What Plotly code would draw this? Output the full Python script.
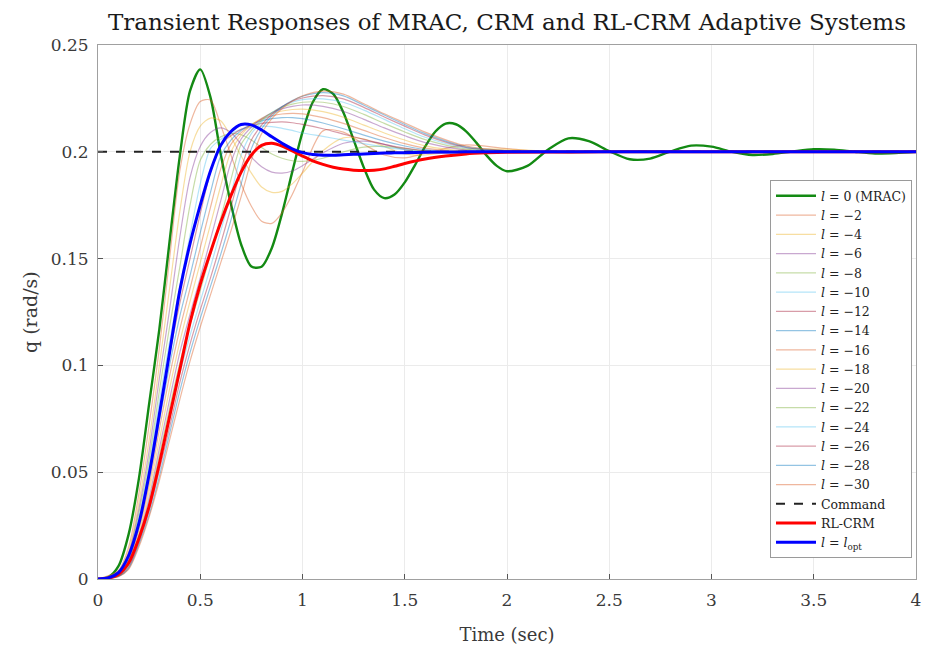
import plotly.graph_objects as go

# ---------------- data ----------------
T_GREEN = [0, 0.05, 0.1, 0.15, 0.2, 0.25, 0.3, 0.35, 0.4, 0.45, 0.5, 0.55, 0.6, 0.65, 0.7, 0.75,
           0.8, 0.85, 0.9, 0.95, 1.0, 1.05, 1.1, 1.15, 1.2, 1.25, 1.3, 1.35, 1.4, 1.45, 1.5,
           1.55, 1.6, 1.65, 1.7, 1.75, 1.8, 1.85, 1.9, 1.95, 2.0, 2.1, 2.2, 2.3, 2.4, 2.5,
           2.6, 2.7, 2.8, 2.9, 3.0, 3.1, 3.2, 3.3, 3.4, 3.5, 3.6, 3.7, 3.8, 3.9, 4.0]
Q_MRAC = [0, 0.0008, 0.006, 0.021, 0.047, 0.082, 0.117, 0.158, 0.198, 0.2285, 0.2386, 0.2255,
          0.1990, 0.1756, 0.1566, 0.1463, 0.1462, 0.1550, 0.1712, 0.1906, 0.2092, 0.2232, 0.2293,
          0.2271, 0.2184, 0.2056, 0.1926, 0.1823, 0.1783, 0.1800, 0.1857, 0.1938, 0.2025, 0.2095,
          0.2132, 0.2129, 0.2096, 0.2043, 0.1983, 0.1934, 0.1909, 0.1934, 0.2010, 0.2063, 0.2050,
          0.2003, 0.1965, 0.1968, 0.2002, 0.2029, 0.2024, 0.2000, 0.1985, 0.1990, 0.2002, 0.2012,
          0.2010, 0.2000, 0.1992, 0.1994, 0.2000]

T_BR = [0, 0.05, 0.1, 0.15, 0.2, 0.25, 0.3, 0.35, 0.4, 0.45, 0.5, 0.55, 0.6, 0.65, 0.7, 0.75,
        0.8, 0.85, 0.9, 0.95, 1.0, 1.05, 1.1, 1.15, 1.2, 1.25, 1.3, 1.35, 1.4, 1.45, 1.5,
        1.6, 1.7, 1.8, 1.9, 2.0, 2.5, 3.0, 3.5, 4.0]
Q_LOPT = [0, 0.0005, 0.003, 0.011, 0.026, 0.049, 0.077, 0.106, 0.135, 0.157, 0.175, 0.191,
          0.203, 0.2095, 0.2128, 0.2126, 0.2102, 0.2070, 0.2040, 0.2014, 0.1996, 0.1987, 0.1984,
          0.1984, 0.1986, 0.1988, 0.1990, 0.1992, 0.1994, 0.1995, 0.1996, 0.1998, 0.1999, 0.2,
          0.2, 0.2, 0.2, 0.2, 0.2, 0.2]
Q_RLCRM = [0, 0.0004, 0.0022, 0.0075, 0.019, 0.034, 0.054, 0.076, 0.098, 0.120, 0.138, 0.153,
           0.167, 0.1795, 0.1905, 0.1985, 0.2030, 0.2040, 0.2027, 0.2004, 0.1980, 0.1958, 0.1941,
           0.1928, 0.1919, 0.1914, 0.1912, 0.1914, 0.1920, 0.1932, 0.1945, 0.1966, 0.1980, 0.1990,
           0.1995, 0.1998, 0.2, 0.2, 0.2, 0.2]

T_CMD = [0, 4]
Q_CMD = [0.2, 0.2]

T_THIN = [0, 0.1, 0.15, 0.2, 0.25, 0.3, 0.35, 0.4, 0.45, 0.5, 0.55, 0.6, 0.65, 0.7, 0.75, 0.8,
          0.85, 0.9, 0.95, 1.0, 1.1, 1.2, 1.3, 1.4, 1.5, 1.6, 1.8, 2.0, 2.3, 2.6, 3.0, 4.0]
L_VALUES = [-2, -4, -6, -8, -10, -12, -14, -16, -18, -20, -22, -24, -26, -28, -30]
Q_L2 = [0, 0.004, 0.015, 0.040, 0.072, 0.108, 0.150, 0.191, 0.213, 0.2235, 0.2242, 0.2125, 0.1985,
        0.185, 0.1745, 0.1675, 0.1665, 0.1715, 0.180, 0.1905, 0.2098, 0.2092, 0.2035, 0.1985,
        0.1972, 0.1992, 0.2032, 0.2015, 0.1993, 0.2003, 0.2, 0.2]
Q_L4 = [0, 0.0035, 0.013, 0.036, 0.065, 0.100, 0.136, 0.172, 0.200, 0.212, 0.2158, 0.2145, 0.207,
        0.198, 0.190, 0.1835, 0.181, 0.1815, 0.185, 0.190, 0.2005, 0.2065, 0.206, 0.2025, 0.199,
        0.1985, 0.2012, 0.2012, 0.1998, 0.2, 0.2, 0.2]
Q_L6 = [0, 0.003, 0.012, 0.033, 0.060, 0.094, 0.126, 0.160, 0.188, 0.2025, 0.209, 0.2112, 0.209,
        0.2035, 0.1975, 0.1930, 0.1905, 0.190, 0.191, 0.1935, 0.1995, 0.204, 0.205, 0.2035, 0.201,
        0.1995, 0.1995, 0.2005, 0.2003, 0.2, 0.2, 0.2]
Q_L8 = [0, 0.003, 0.011, 0.031, 0.056, 0.088, 0.118, 0.146, 0.175, 0.196, 0.2035, 0.207, 0.2085,
        0.208, 0.2055, 0.202, 0.199, 0.197, 0.1958, 0.1955, 0.197, 0.200, 0.2022, 0.2025, 0.2015,
        0.2003, 0.1995, 0.2, 0.2, 0.2, 0.2, 0.2]
Q_L10 = [0, 0.0028, 0.010, 0.029, 0.053, 0.083, 0.111, 0.137, 0.161, 0.185, 0.2015, 0.2058, 0.2085,
         0.2105, 0.2115, 0.212, 0.2118, 0.211, 0.210, 0.2088, 0.2072, 0.2055, 0.2038, 0.2022, 0.201,
         0.2002, 0.1996, 0.1998, 0.2, 0.2, 0.2, 0.2]
Q_L12 = [0, 0.0025, 0.009, 0.027, 0.050, 0.078, 0.105, 0.129, 0.150, 0.171, 0.1905, 0.2035, 0.2075,
         0.2105, 0.2123, 0.2133, 0.2138, 0.214, 0.2136, 0.2128, 0.2108, 0.2083, 0.2058, 0.2035,
         0.2017, 0.2005, 0.1996, 0.1998, 0.2, 0.2, 0.2, 0.2]
Q_L14 = [0, 0.0023, 0.0085, 0.025, 0.047, 0.074, 0.100, 0.123, 0.142, 0.162, 0.181, 0.198, 0.2055,
         0.2100, 0.2128, 0.2145, 0.2155, 0.216, 0.216, 0.2155, 0.2135, 0.2108, 0.2078, 0.2050,
         0.2027, 0.201, 0.1997, 0.1998, 0.2, 0.2, 0.2, 0.2]
Q_L16 = [0, 0.002, 0.008, 0.023, 0.044, 0.070, 0.095, 0.117, 0.136, 0.155, 0.174, 0.192, 0.2035,
         0.2090, 0.2127, 0.2152, 0.2168, 0.2177, 0.218, 0.2178, 0.216, 0.2133, 0.2100, 0.2067,
         0.2038, 0.2017, 0.1998, 0.1998, 0.2, 0.2, 0.2, 0.2]
Q_L18 = [0, 0.0018, 0.0075, 0.021, 0.041, 0.065, 0.089, 0.111, 0.130, 0.148, 0.166, 0.184, 0.200,
         0.2078, 0.2125, 0.2157, 0.2178, 0.2191, 0.2198, 0.220, 0.2188, 0.2162, 0.2125, 0.2088,
         0.2055, 0.2028, 0.2003, 0.1999, 0.2, 0.2, 0.2, 0.2]
Q_L20 = [0, 0.0016, 0.007, 0.020, 0.038, 0.061, 0.084, 0.106, 0.124, 0.141, 0.159, 0.177, 0.195,
         0.2060, 0.2115, 0.2155, 0.2183, 0.2201, 0.2213, 0.2219, 0.2213, 0.2190, 0.2152, 0.2112,
         0.2075, 0.2043, 0.2008, 0.2, 0.1999, 0.2, 0.2, 0.2]
Q_L22 = [0, 0.0015, 0.0065, 0.019, 0.036, 0.058, 0.080, 0.101, 0.119, 0.135, 0.152, 0.169, 0.187,
         0.2035, 0.2100, 0.2148, 0.2184, 0.2208, 0.2223, 0.2232, 0.2232, 0.2212, 0.2175, 0.2133,
         0.2093, 0.2057, 0.2013, 0.2002, 0.1999, 0.2, 0.2, 0.2]
Q_L24 = [0, 0.0014, 0.006, 0.018, 0.034, 0.054, 0.075, 0.096, 0.114, 0.130, 0.146, 0.163, 0.180,
         0.1985, 0.2085, 0.2140, 0.2182, 0.2212, 0.2232, 0.2244, 0.2248, 0.2232, 0.2195, 0.2152,
         0.2108, 0.2068, 0.2017, 0.2003, 0.1999, 0.2, 0.2, 0.2]
Q_L26 = [0, 0.0013, 0.0055, 0.017, 0.032, 0.051, 0.071, 0.092, 0.110, 0.126, 0.141, 0.157, 0.174,
         0.192, 0.2055, 0.2125, 0.2176, 0.2212, 0.2237, 0.2252, 0.2263, 0.2248, 0.2208, 0.2163,
         0.2120, 0.2078, 0.2020, 0.2004, 0.1999, 0.2, 0.2, 0.2]
Q_L28 = [0, 0.0012, 0.005, 0.016, 0.030, 0.048, 0.068, 0.088, 0.106, 0.122, 0.137, 0.152, 0.168,
         0.185, 0.2015, 0.2108, 0.2167, 0.2210, 0.2240, 0.2260, 0.2277, 0.2262, 0.2218, 0.2172,
         0.2128, 0.2085, 0.2023, 0.2005, 0.1999, 0.2, 0.2, 0.2]
Q_L30 = [0, 0.0011, 0.0045, 0.015, 0.029, 0.046, 0.065, 0.084, 0.102, 0.118, 0.133, 0.148, 0.163,
         0.179, 0.196, 0.2085, 0.2155, 0.2203, 0.2238, 0.2262, 0.2284, 0.2270, 0.2225, 0.2178,
         0.2135, 0.2092, 0.2027, 0.2006, 0.1999, 0.2, 0.2, 0.2]
Q_THIN = [Q_L2, Q_L4, Q_L6, Q_L8, Q_L10, Q_L12, Q_L14, Q_L16, Q_L18, Q_L20, Q_L22, Q_L24,
          Q_L26, Q_L28, Q_L30]

X_TICKS = [0, 0.5, 1, 1.5, 2, 2.5, 3, 3.5, 4]
X_TICK_TEXT = ["0", "0.5", "1", "1.5", "2", "2.5", "3", "3.5", "4"]
Y_TICKS = [0, 0.05, 0.1, 0.15, 0.2, 0.25]
Y_TICK_TEXT = ["0", "0.05", "0.1", "0.15", "0.2", "0.25"]

# ---------------- styling ----------------
THIN_COLORS = ["rgba(217,83,25,0.42)", "rgba(237,177,32,0.42)", "rgba(126,47,142,0.42)",
               "rgba(119,172,48,0.42)", "rgba(77,190,238,0.42)", "rgba(162,20,47,0.42)",
               "rgba(0,114,189,0.42)"]
FONT = "DejaVu Serif"

# the page body has an 8px margin: size the figure so it fits inside the 930x653 window
W, H = 914, 637
ML, MR, MT, MB = 90, 6, 37, 66

fig = go.Figure()

fig.add_trace(go.Scatter(x=T_GREEN, y=Q_MRAC, mode="lines", name="<i>l</i> = 0 (MRAC)",
                         line=dict(color="#138a13", width=2.4, shape="spline", smoothing=0.8)))
for i, (lv, q) in enumerate(zip(L_VALUES, Q_THIN)):
    fig.add_trace(go.Scatter(x=T_THIN, y=q, mode="lines",
                             name="<i>l</i> = \u2212%d" % abs(lv),
                             line=dict(color=THIN_COLORS[i % 7], width=1.2, shape="spline",
                                       smoothing=0.8)))
fig.add_trace(go.Scatter(x=T_CMD, y=Q_CMD, mode="lines", name="Command",
                         line=dict(color="#222222", width=2, dash="dash")))
fig.add_trace(go.Scatter(x=T_BR, y=Q_RLCRM, mode="lines", name="RL-CRM",
                         line=dict(color="#ff0000", width=3, shape="spline", smoothing=0.8)))
fig.add_trace(go.Scatter(x=T_BR, y=Q_LOPT, mode="lines",
                         name="<i>l</i> = <i>l</i><sub>opt</sub>",
                         line=dict(color="#0000ff", width=3, shape="spline", smoothing=0.8)))

axis_common = dict(showgrid=True, gridcolor="#ebebeb", gridwidth=1, zeroline=False,
                   showline=True, linecolor="#a0a0a0", linewidth=1, mirror=True,
                   ticks="inside", ticklen=5, tickcolor="#555555", automargin=False,
                   ticklabeloverflow="allow",
                   tickfont=dict(family=FONT, size=17, color="#3a3a3a"))

fig.update_layout(
    width=W, height=H,
    margin=dict(l=ML, r=MR, t=MT, b=MB, autoexpand=False),
    paper_bgcolor="white", plot_bgcolor="white",
    font=dict(family=FONT, color="#222222"),
    title=dict(text="Transient Responses of MRAC, CRM and RL-CRM Adaptive Systems",
               x=(ML + (W - ML - MR) / 2) / W, xanchor="center", y=1 - 14 / H, yanchor="middle",
               font=dict(family=FONT, size=23, color="#1a1a1a")),
    xaxis=dict(range=[0, 4], tickvals=X_TICKS, ticktext=X_TICK_TEXT, ticklabelstandoff=6,
               title=dict(text="Time (sec)", font=dict(family=FONT, size=18, color="#3a3a3a"),
                          standoff=20),
               **axis_common),
    yaxis=dict(range=[0, 0.25], tickvals=Y_TICKS, ticktext=Y_TICK_TEXT, ticklabelstandoff=5,
               **axis_common),
    annotations=[dict(text="q (rad/s)", textangle=-90, xref="paper", yref="paper",
                      x=(22 - ML) / (W - ML - MR), y=0.5, xanchor="center", yanchor="middle",
                      showarrow=False, font=dict(family=FONT, size=19, color="#3a3a3a"))],
    legend=dict(x=(904 - ML) / (W - ML - MR), y=0.039, xanchor="right", yanchor="bottom",
                bgcolor="white", bordercolor="#9a9a9a", borderwidth=1,
                font=dict(family=FONT, size=12.5, color="#222222"),
                tracegroupgap=0, itemwidth=40),
    showlegend=True,
)

fig.write_html("out.html")
